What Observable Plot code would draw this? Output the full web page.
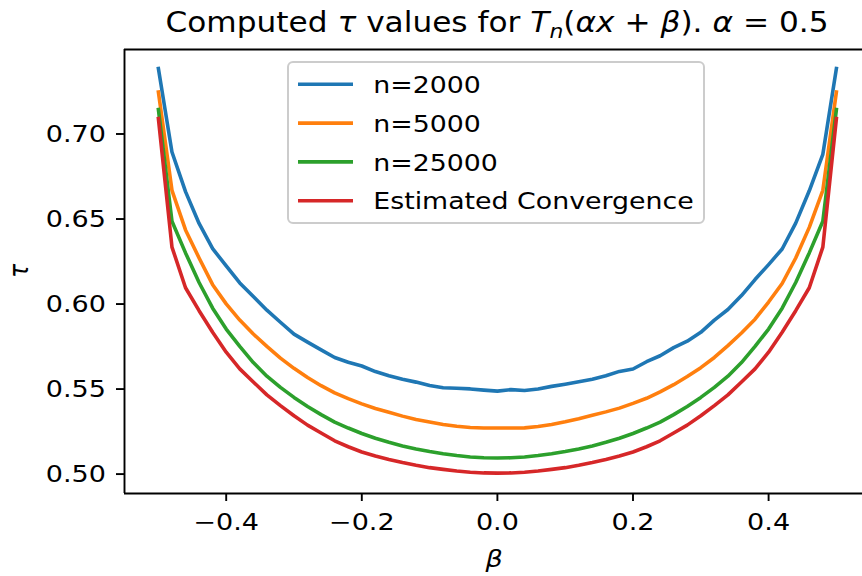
<!DOCTYPE html>
<html><head><meta charset="utf-8">
<script src="https://cdn.jsdelivr.net/npm/d3@7"></script>
<script src="https://cdn.jsdelivr.net/npm/@observablehq/plot@0.6"></script>
<style>
body{margin:0;background:#fff;}
#chart{width:862px;height:576px;overflow:hidden;}
</style></head><body><div id="chart"></div>
<script>
const beta = [-0.50,-0.48,-0.46,-0.44,-0.42,-0.40,-0.38,-0.36,-0.34,-0.32,-0.30,-0.28,-0.26,-0.24,-0.22,-0.20,-0.18,-0.16,-0.14,-0.12,-0.10,-0.08,-0.06,-0.04,-0.02,0.00,
  0.02,0.04,0.06,0.08,0.10,0.12,0.14,0.16,0.18,0.20,0.22,0.24,0.26,0.28,0.30,0.32,0.34,0.36,0.38,0.40,0.42,0.44,0.46,0.48,0.50];

const tau2000 = [0.7379,0.6888,0.6655,0.6468,0.6320,0.6218,0.6118,0.6038,0.5958,0.5887,0.5817,0.5770,0.5725,0.5680,0.5652,0.5630,0.5597,0.5573,0.5552,0.5535,0.5515,0.5502,0.5499,0.5495,0.5488,0.5482,
  0.5491,0.5486,0.5495,0.5510,0.5523,0.5537,0.5552,0.5572,0.5598,0.5612,0.5655,0.5690,0.5738,0.5776,0.5828,0.5900,0.5962,0.6044,0.6138,0.6226,0.6318,0.6470,0.6660,0.6875,0.7379];

const tau5000 = [0.7241,0.6663,0.6430,0.6265,0.6108,0.5995,0.5900,0.5818,0.5745,0.5676,0.5616,0.5562,0.5514,0.5472,0.5438,0.5407,0.5380,0.5358,0.5335,0.5315,0.5300,0.5286,0.5275,0.5268,0.5265,0.5265,
  0.5265,0.5266,0.5274,0.5286,0.5302,0.5320,0.5340,0.5360,0.5382,0.5410,0.5440,0.5478,0.5520,0.5568,0.5620,0.5680,0.5750,0.5824,0.5905,0.6006,0.6115,0.6265,0.6445,0.6663,0.7241];

const tau25000 = [0.7138,0.6481,0.6295,0.6121,0.5970,0.5847,0.5745,0.5650,0.5570,0.5504,0.5445,0.5392,0.5344,0.5300,0.5265,0.5233,0.5205,0.5181,0.5160,0.5142,0.5127,0.5114,0.5103,0.5095,0.5090,0.5089,
  0.5090,0.5095,0.5103,0.5114,0.5127,0.5142,0.5160,0.5181,0.5205,0.5233,0.5265,0.5300,0.5344,0.5392,0.5445,0.5504,0.5570,0.5650,0.5745,0.5847,0.5970,0.6121,0.6295,0.6481,0.7138];

const tauConv = [0.7085,0.6329,0.6090,0.5955,0.5828,0.5711,0.5613,0.5536,0.5460,0.5397,0.5337,0.5282,0.5236,0.5190,0.5155,0.5124,0.5100,0.5080,0.5062,0.5046,0.5032,0.5022,0.5012,0.5005,0.5001,0.5000,
  0.5001,0.5005,0.5012,0.5022,0.5032,0.5046,0.5062,0.5080,0.5100,0.5124,0.5155,0.5190,0.5236,0.5282,0.5337,0.5397,0.5460,0.5536,0.5613,0.5711,0.5828,0.5955,0.6090,0.6329,0.7085];

const seriesNames = ["n=2000", "n=5000", "n=25000", "Estimated Convergence"];
const seriesColors = ["#1f77b4", "#ff7f0e", "#2ca02c", "#d62728"];
const xTicks = [-0.4, -0.2, 0.0, 0.2, 0.4];
const yTicks = [0.50, 0.55, 0.60, 0.65, 0.70];
const xDomain = [-0.55, 0.5385];
const yDomain = [0.488, 0.7491];

const seriesValues = [tau2000, tau5000, tau25000, tauConv];
const data = seriesNames.flatMap((name, s) =>
  beta.map((b, i) => ({series: name, beta: b, tau: seriesValues[s][i]})));

const FONT = "DejaVu Sans";
const SX = 1.15;       // horizontal text stretch of the reference
const SXT = 1.095;     // title stretch
const FS = 23.5;       // tick / legend font size
const W = 862, H = 576;
const mL = 124, mR = 0, mT = 49, mB = 83;

const svg = Plot.plot({
  width: W, height: H,
  marginLeft: mL, marginRight: mR, marginTop: mT, marginBottom: mB,
  style: {fontFamily: FONT, fontSize: FS + "px", color: "black", background: "white", overflow: "visible"},
  x: {domain: xDomain, label: null},
  y: {domain: yDomain, label: null},
  color: {domain: seriesNames, range: seriesColors},
  marks: [
    Plot.line(data, {x: "beta", y: "tau", z: "series", stroke: "series",
      strokeWidth: 3.6, strokeLinejoin: "round", strokeLinecap: "square"}),
    Plot.ruleX([xDomain[0]], {stroke: "black", strokeWidth: 1.9}),
    Plot.ruleY([yDomain[0], yDomain[1]], {stroke: "black", strokeWidth: 1.9}),
    Plot.axisX({ticks: xTicks, tickSize: 8, tickPadding: 12, strokeWidth: 1.9,
      tickFormat: d => d.toFixed(1).replace("-", "\u2212"), label: null, fontSize: FS}),
    Plot.axisY({ticks: yTicks, tickSize: 8, tickPadding: 10.5, strokeWidth: 1.9, dy: 1,
      tickFormat: d => d.toFixed(2), label: null, fontSize: FS})
  ]
});

// stretch tick labels horizontally around their anchor (transform is translate(x,y))
svg.querySelectorAll('g[aria-label$="tick label"] text').forEach(t => {
  const tr = t.getAttribute("transform");
  if (tr) t.setAttribute("transform", `${tr} scale(${SX},1)`);
});

document.getElementById("chart").appendChild(svg);
const root = d3.select(svg);

// Title
const title = root.append("text")
  .attr("transform", `translate(497,31.7) scale(${SXT},1)`)
  .attr("text-anchor", "middle")
  .attr("font-family", FONT).attr("font-size", 28.5).attr("fill", "black");
const parts = [
  ["Computed ", false], ["\u03C4", true], [" values for ", false], ["T", true],
  ["n", true, "sub"], ["(", false, "unsub"], ["\u03B1x", true], [" + ", false], ["\u03B2", true],
  ["). ", false], ["\u03B1", true], [" = 0.5", false]
];
parts.forEach(([txt, it, sub]) => {
  const ts = title.append("tspan").text(txt).attr("font-style", it ? "italic" : "normal");
  if (sub === "sub") ts.attr("font-size", 20).attr("dy", 6);
  if (sub === "unsub") ts.attr("dy", -6);
});

// Axis labels
root.append("text")
  .attr("transform", `translate(494,567) scale(${SX},1)`)
  .attr("text-anchor", "middle").attr("font-family", FONT).attr("font-size", FS)
  .attr("font-style", "italic").text("\u03B2");
root.append("text")
  .attr("transform", `translate(28,271) scale(${SX},1) rotate(-90)`)
  .attr("text-anchor", "middle").attr("font-family", FONT).attr("font-size", FS)
  .attr("font-style", "italic").text("\u03C4");

// Legend
const lg = root.append("g");
lg.append("rect").attr("x", 288).attr("y", 62).attr("width", 416).attr("height", 161)
  .attr("rx", 5).attr("fill", "white").attr("fill-opacity", 0.8)
  .attr("stroke", "#cccccc").attr("stroke-width", 2);
seriesNames.forEach((name, i) => {
  const yy = 84.3 + i * 38.8;
  lg.append("line").attr("x1", 298).attr("x2", 353).attr("y1", yy).attr("y2", yy)
    .attr("stroke", seriesColors[i]).attr("stroke-width", 3.6);
  lg.append("text").attr("transform", `translate(373.3,${yy + 8.6}) scale(1.14,1)`)
    .attr("text-anchor", "start")
    .attr("font-family", FONT).attr("font-size", FS).attr("fill", "black").text(name);
});
</script></body></html>
